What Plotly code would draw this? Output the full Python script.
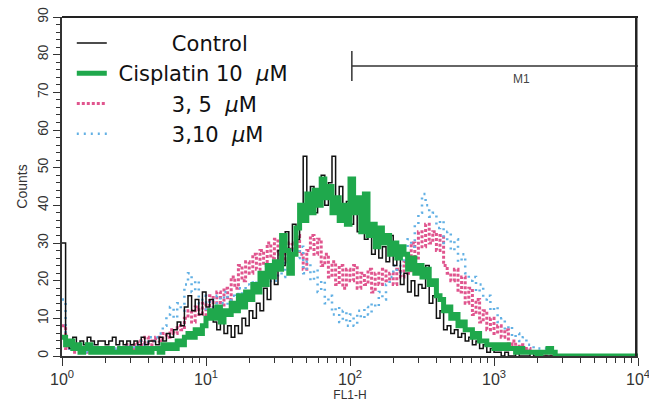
import numpy as np
import plotly.graph_objects as go

# FL1-H channel positions: log10 exponent grid, 40 bins per decade (10^0 .. 10^4)
decade_exponents = [i / 40 for i in range(161)]
fl1_h = [10 ** e for e in decade_exponents]

control = [30, 3, 2, 5, 3, 4, 3, 5, 4, 3, 4, 4, 3, 4, 5, 3, 4, 3, 4,
           3, 4, 3, 5, 3, 4, 4, 3, 5, 4, 6, 5,
           7, 9, 8, 13, 16, 12, 15, 11, 17, 13,
           15, 9, 7, 9, 6, 8, 5, 8, 6, 10, 8, 12, 10, 14, 12, 18, 15, 21, 19, 28,
           24, 33, 27, 35, 31, 40, 53, 42, 45, 38,
           44, 48, 40, 46, 53, 42, 45, 38, 41, 35,
           38, 33, 36, 31, 34, 27, 30, 26, 29, 25, 32, 24, 26, 19, 22, 17, 20, 16, 19, 18,
           24, 14, 16, 10, 12, 7, 8, 6, 7, 5, 6, 4, 5, 3, 4, 2, 3, 1, 2, 1,
           1, 0, 1, 0, 0, 1, 0, 0, 0, 1, 0, 0, 0, 0, 0, 0, 0, 0, 0, 0,
           0, 0, 0, 0, 0, 0, 0, 0, 0, 0, 0, 0, 0, 0, 0, 0, 0, 0, 0, 0]

cisplatin_10 = [5, 3, 4, 2, 3, 1, 2, 3, 1, 2, 1, 2, 1, 2, 1, 1, 2, 1, 2,
                1, 1, 2, 1, 2, 1, 2, 2, 1, 3, 2, 3,
                2, 4, 3, 5, 6, 5, 7, 6, 8, 10,
                12, 10, 13, 9, 12, 11, 14, 12, 16, 13, 17, 15, 19, 17, 22, 19, 24, 21, 25, 23,
                32, 28, 22, 27, 34, 40, 36, 43, 38, 44,
                40, 47, 42, 45, 38, 42, 36, 40, 35, 47,
                38, 42, 33, 43, 32, 35, 29, 34, 30, 32, 27, 30, 26, 29, 27, 23, 26, 22, 24, 21,
                23, 19, 20, 16, 15, 12, 13, 10, 11, 8, 9, 7, 7, 5, 6, 4, 4, 3, 3, 2,
                3, 2, 3, 2, 2, 1, 2, 1, 1, 1, 1, 0, 1, 1, 2, 1, 0, 0, 0, 0,
                0, 0, 0, 0, 0, 0, 0, 0, 0, 0, 0, 0, 0, 0, 0, 0, 0, 0, 0, 0]

compound3_5 = [8, 2, 3, 1, 2, 2, 1, 2, 1, 2, 1, 2, 1, 2, 1, 2, 2, 1, 3,
               2, 3, 4, 3, 5, 3, 4, 5, 4, 6, 5, 7,
               6, 8, 7, 10, 12, 9, 13, 11, 14, 10,
               16, 12, 17, 13, 18, 15, 21, 18, 24, 20, 25, 22, 27, 23, 28, 24, 30, 26, 31, 27,
               29, 25, 30, 28, 32, 27, 23, 28, 32, 27,
               31, 24, 27, 21, 25, 19, 24, 18, 23, 20,
               24, 18, 22, 19, 23, 17, 22, 19, 23, 20, 22, 19, 23, 21, 25, 22, 30, 26, 33, 29,
               35, 30, 33, 28, 32, 24, 22, 20, 23, 17, 21, 14, 18, 11, 15, 9, 12, 7, 10, 6,
               8, 5, 7, 3, 4, 2, 3, 1, 2, 1, 1, 0, 1, 0, 0, 0, 0, 0, 0, 0,
               0, 0, 0, 0, 0, 0, 0, 0, 0, 0, 0, 0, 0, 0, 0, 0, 0, 0, 0, 0]

compound3_10 = [15, 3, 2, 3, 1, 2, 2, 1, 3, 1, 2, 1, 2, 2, 1, 2, 1, 2, 3,
                2, 3, 2, 4, 3, 5, 4, 5, 6, 8, 11, 13,
                10, 14, 12, 19, 22, 17, 20, 14, 16, 12,
                15, 13, 16, 14, 17, 13, 16, 15, 18, 16, 19, 17, 20, 18, 20, 21, 19, 22, 20, 23,
                21, 25, 24, 28, 26, 29, 22, 25, 20, 23,
                17, 20, 14, 16, 11, 13, 9, 12, 8, 11,
                8, 12, 10, 13, 11, 14, 13, 17, 15, 19, 21, 24, 22, 27, 25, 31, 29, 35, 38, 43,
                40, 37, 38, 34, 36, 30, 33, 28, 31, 25, 27, 22, 20, 21, 17, 19, 15, 16, 12, 13,
                9, 10, 7, 8, 5, 6, 4, 5, 3, 3, 2, 2, 1, 2, 1, 1, 0, 0, 0, 0,
                0, 0, 0, 0, 0, 0, 0, 0, 0, 0, 0, 0, 0, 0, 0, 0, 0, 0, 0, 0]

NB = "\u00a0"
series_names = [NB * 9 + "Control",
                NB + "Cisplatin 10" + NB * 2 + "<i>μ</i>M",
                NB * 9 + "3," + NB + "5" + NB * 2 + "<i>μ</i>M",
                NB * 9 + "3,10" + NB * 2 + "<i>μ</i>M"]

# M1 gate marker
m1_start = 103
m1_end = 10000
m1_level = 77
m1_tick_low = 73
m1_tick_high = 81
m1_label_x = 1550

x_tickvals = [1, 10, 100, 1000, 10000]
x_ticktext = ["10<sup>0</sup>", "10<sup>1</sup>", "10<sup>2</sup>", "10<sup>3</sup>", "10<sup>4</sup>"]
x_minor = [m * 10 ** d for d in range(4) for m in range(2, 10)]
y_tickvals = [0, 10, 20, 30, 40, 50, 60, 70, 80, 90]

styles = {
    "control": dict(color="#111111", width=1.5),
    "cis": dict(color="#1fa84c", width=5),
    "c35": dict(color="#e0558e", width=3, dash="3px,2px"),
    "c310": dict(color="#62b0e4", width=2.5, dash="2px,5px"),
}

fig = go.Figure()

# data traces (drawn back to front)
fig.add_trace(go.Scatter(x=fl1_h, y=compound3_5, mode="lines", line_shape="hv",
                         line=styles["c35"], showlegend=False))
fig.add_trace(go.Scatter(x=fl1_h, y=compound3_10, mode="lines", line_shape="hv",
                         line=styles["c310"], showlegend=False))
fig.add_trace(go.Scatter(x=fl1_h, y=control, mode="lines", line_shape="hv",
                         line=styles["control"], showlegend=False))
fig.add_trace(go.Scatter(x=fl1_h, y=cisplatin_10, mode="lines", line_shape="hv",
                         line=styles["cis"], showlegend=False))

# legend entries (straight sample lines)
for name, key in zip(series_names, ["control", "cis", "c35", "c310"]):
    fig.add_trace(go.Scatter(x=[None], y=[None], mode="lines", name=name, line=styles[key]))

# gate line
fig.add_trace(go.Scatter(x=[m1_start, m1_end], y=[m1_level, m1_level], mode="lines",
                         line=dict(color="#333333", width=1.5), showlegend=False, hoverinfo="skip"))
fig.add_trace(go.Scatter(x=[m1_start, m1_start], y=[m1_tick_low, m1_tick_high], mode="lines",
                         line=dict(color="#333333", width=1.5), showlegend=False, hoverinfo="skip"))

fig.add_annotation(x=np.log10(m1_label_x), y=m1_level - 1.2, text="M1", showarrow=False,
                   yanchor="top", font=dict(size=12, color="#444444", family="Liberation Sans"))

# plot frame (top and right edges; bottom/left come from the axis lines)
fig.add_shape(type="line", xref="paper", yref="paper", x0=0, x1=1, y0=1, y1=1,
              line=dict(color="#222222", width=2), layer="above")
fig.add_shape(type="line", xref="paper", yref="paper", x0=0.997, x1=0.997, y0=0, y1=1,
              line=dict(color="#222222", width=2.5), layer="above")

fig.update_layout(
    width=649, height=409,
    margin=dict(l=62, r=11, t=17, b=53),
    paper_bgcolor="white", plot_bgcolor="white",
    font=dict(family="Liberation Sans, Arial, sans-serif", color="#222222"),
    showlegend=True,
    legend=dict(x=0.017, y=0.983, xanchor="left", yanchor="top",
                bgcolor="rgba(0,0,0,0)", itemwidth=30, traceorder="normal",
                font=dict(size=21, color="#111111", family="DejaVu Sans"), tracegroupgap=0),
    xaxis=dict(type="log", range=[0, 4], tickvals=x_tickvals, ticktext=x_ticktext,
               automargin=False, ticklabeloverflow="allow",
               ticks="outside", ticklen=8, tickwidth=1.2, tickcolor="#333333",
               showline=True, linecolor="#333333", linewidth=1.5,
               showgrid=False, zeroline=False,
               tickfont=dict(size=16, color="#333333"),
               minor=dict(tickvals=x_minor, ticks="outside", ticklen=5, tickcolor="#333333",
                          tickwidth=1, showgrid=False),
               title=dict(text="FL1-H", font=dict(size=12, color="#333333"), standoff=2)),
    yaxis=dict(range=[0, 90], tickvals=y_tickvals, tickangle=-90,
               automargin=False, ticklabeloverflow="allow",
               ticks="outside", ticklen=7, tickwidth=1.2, tickcolor="#333333",
               showline=True, linecolor="#333333", linewidth=1.5,
               showgrid=False, zeroline=False,
               tickfont=dict(size=14, color="#333333"),
               minor=dict(dtick=2, ticks="outside", ticklen=4, tickcolor="#333333",
                          tickwidth=1, showgrid=False),
               title=dict(text="Counts", font=dict(size=14, color="#333333"), standoff=4)),
)

fig.write_html("out.html", config={"displayModeBar": False},
               post_script="document.body.style.margin='0';")
